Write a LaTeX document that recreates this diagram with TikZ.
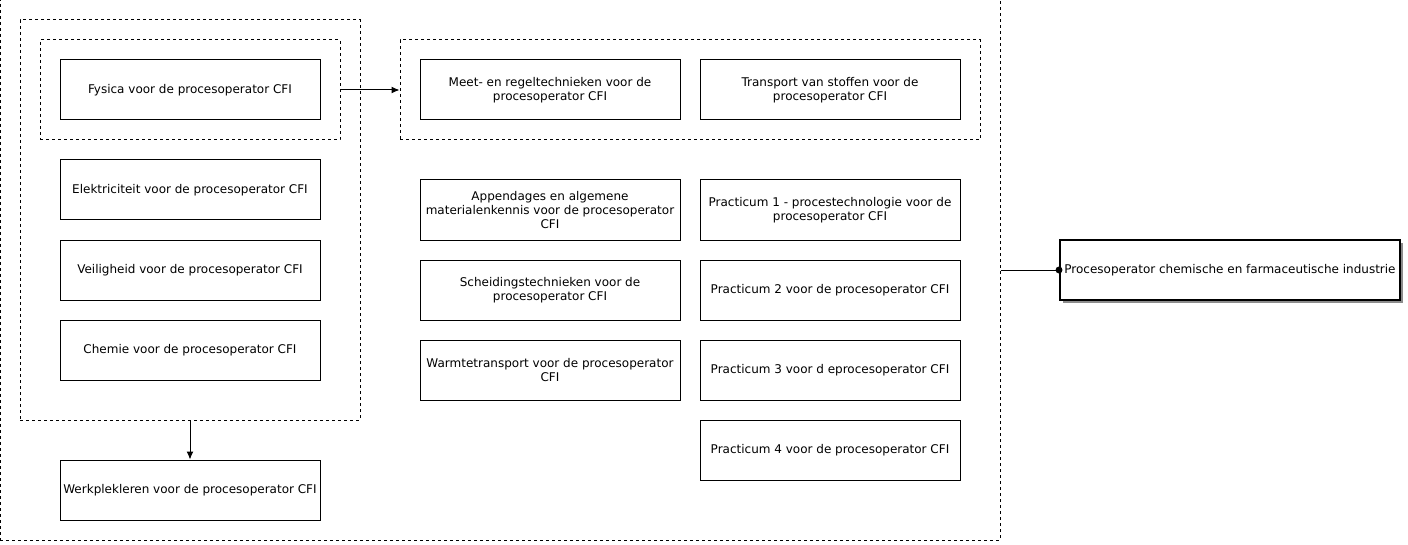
\documentclass[tikz,border=0pt]{standalone}
\usepackage{fontspec}
\setmainfont{DejaVu Sans}
\usetikzlibrary{shadows,arrows.meta}

\begin{document}
\begin{tikzpicture}[x=0.75pt,y=-0.75pt,>={Latex[length=6pt,width=5.25pt]},
    course/.style={draw,line width=0.75pt,minimum width=195pt,minimum height=45pt,
        inner sep=1pt,align=center,font=\fontsize{9pt}{10.5pt}\selectfont},
    group/.style={draw,line width=0.75pt,dash pattern=on 2.25pt off 2.25pt,inner sep=0pt},
    diploma/.style={course,line width=1.5pt,minimum width=255pt,fill=white,
        drop shadow={shadow xshift=2.25pt,shadow yshift=-2.25pt,fill=black!45,opacity=1}}]
    \useasboundingbox (0,0) rectangle (1408,545);

    % draw the groups
    \node[group,minimum width=750pt,minimum height=405pt] (outer) at (500,270) {};
    \node[group,minimum width=255pt,minimum height=300pt] (basis) at (190,220) {};
    \node[group,minimum width=225pt,minimum height=75pt] (fysgroup) at (190,90) {};
    \node[group,minimum width=435pt,minimum height=75pt] (techgroup) at (690,90) {};

    % left column
    \node[course] (fysica) at (190,90) {Fysica voor de procesoperator CFI};
    \node[course] (elek) at (190,190) {Elektriciteit voor de procesoperator CFI};
    \node[course] (veilig) at (190,270) {Veiligheid voor de procesoperator CFI};
    \node[course] (chemie) at (190,350) {Chemie voor de procesoperator CFI};
    \node[course] (werk) at (190,490) {Werkplekleren voor de procesoperator CFI};

    % middle column
    \node[course] (meet) at (550,90) {Meet- en regeltechnieken voor de\\procesoperator CFI};
    \node[course] (append) at (550,210) {Appendages en algemene\\materialenkennis voor de procesoperator\\CFI};
    \node[course] (scheid) at (550,290) {Scheidingstechnieken voor de\\procesoperator CFI};
    \node[course] (warmte) at (550,370) {Warmtetransport voor de procesoperator\\CFI};

    % right column
    \node[course] (transp) at (830,90) {Transport van stoffen voor de\\procesoperator CFI};
    \node[course] (prac1) at (830,210) {Practicum 1 - procestechnologie voor de\\procesoperator CFI};
    \node[course] (prac2) at (830,290) {Practicum 2 voor de procesoperator CFI};
    \node[course] (prac3) at (830,370) {Practicum 3 voor d eprocesoperator CFI};
    \node[course] (prac4) at (830,450) {Practicum 4 voor de procesoperator CFI};

    % the diploma
    \node[diploma] (cfi) at (1230,270) {Procesoperator chemische en farmaceutische industrie};

    % arrows
    \draw[->,line width=0.75pt] (fysgroup.east) -- (techgroup.west);
    \draw[->,line width=0.75pt] (basis.south) -- (werk.north);
    \draw[line width=0.75pt] (outer.east) -- (cfi.west);
    \fill (cfi.west) circle (2.6pt);
\end{tikzpicture}
\end{document}
